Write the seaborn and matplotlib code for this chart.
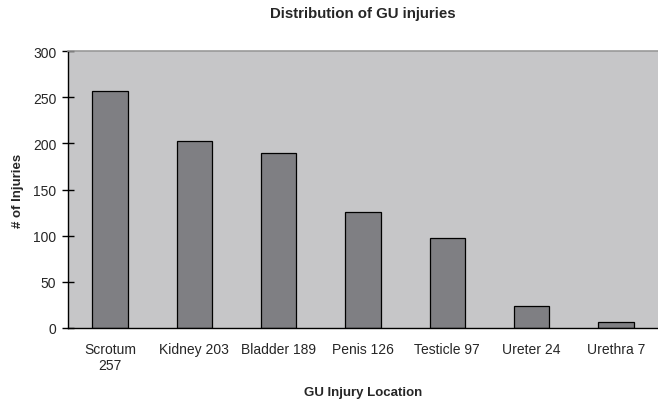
import matplotlib
matplotlib.use("Agg")
import matplotlib.pyplot as plt
import seaborn as sns
import pandas as pd

categories = ["Scrotum\n257", "Kidney 203", "Bladder 189", "Penis 126", "Testicle 97", "Ureter 24", "Urethra 7"]
values = [257, 203, 189, 126, 97, 24, 7]
yticks = [0, 50, 100, 150, 200, 250, 300]

sns.set_style("white")
plt.rcParams['font.family'] = ['Liberation Sans', 'DejaVu Sans']

df = pd.DataFrame({"cat": categories, "val": values})
fig = plt.figure(figsize=(6.58, 4.02), dpi=100)
ax = fig.add_axes([68/658, 73/402, 590/658, 277/402])
ax.set_facecolor("#c6c6c8")
sns.barplot(data=df, x="cat", y="val", color="#7f7f83", width=0.42,
            edgecolor="black", linewidth=0.9, saturation=1, ax=ax)
ax.set_xlim(-0.5, 6.5)
ax.set_ylim(0, 300)
ax.set_yticks(yticks)
ax.set_yticklabels([str(v) for v in yticks], fontsize=10)
ax.set_xticks([i - 0.5 for i in range(7)])
ax.set_xticklabels([""] * 7)
ax.set_xticks(range(7), minor=True)
ax.set_xticklabels(categories, minor=True, fontsize=10)
ax.tick_params(axis='x', which='minor', length=0, pad=10)
ax.tick_params(axis='x', which='major', direction='inout', length=8, width=1, color='black')
ax.tick_params(axis='y', direction='inout', length=9, width=1, color='black', pad=4, left=True)
for s in ["left", "bottom"]:
    ax.spines[s].set_color("black")
    ax.spines[s].set_linewidth(1)
ax.spines["top"].set_color("#999999")
ax.spines["top"].set_linewidth(1.2)
ax.spines["right"].set_visible(False)
ax.set_xlabel("GU Injury Location", fontsize=9.5, fontweight="bold", va="center")
ax.xaxis.set_label_coords(0.5, (329 - 393) / 277)
ax.set_ylabel("# of Injuries", fontsize=9.5, fontweight="bold", va="center")
ax.yaxis.set_label_coords((18 - 68) / 590, 0.5)
ax.text(0.5, (329 - 14) / 277, "Distribution of GU injuries", transform=ax.transAxes,
        ha="center", va="center", fontsize=10.8, fontweight="bold")
fig.savefig("out.png", dpi=100)
